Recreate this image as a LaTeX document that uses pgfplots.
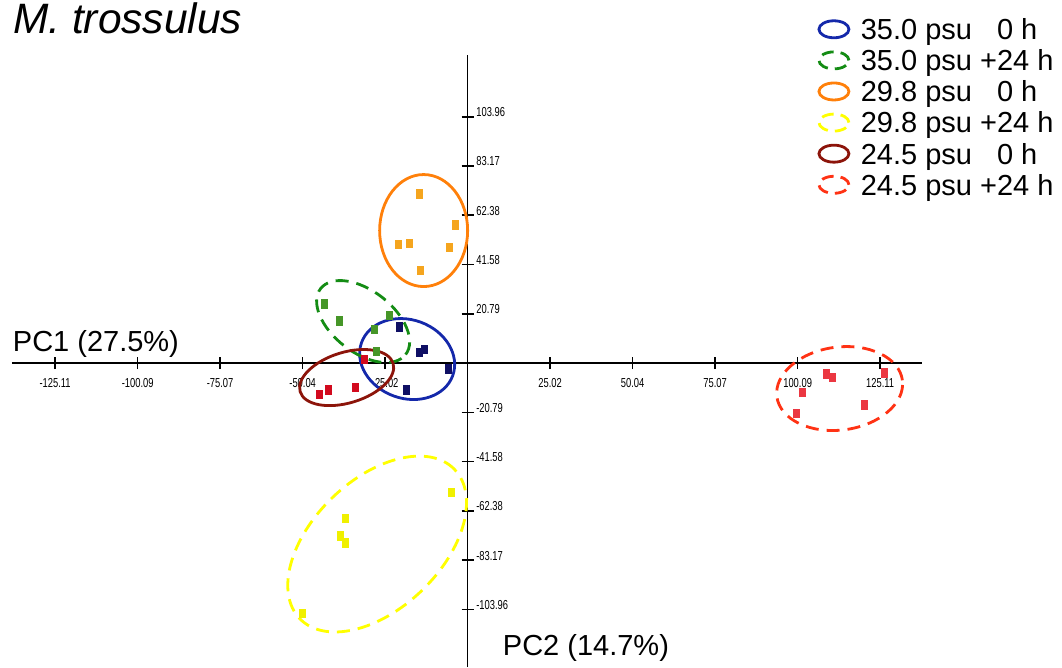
\documentclass[border=0pt]{standalone}
\usepackage{pgfplots}
\pgfplotsset{compat=1.18}
\usepackage{fontspec}
\setmainfont{Liberation Sans}
\newfontfamily\tickfont{Liberation Sans}[FakeStretch=0.72]

\definecolor{blueE}{RGB}{20,40,170}
\definecolor{blueP}{RGB}{15,15,100}
\definecolor{greenE}{RGB}{20,140,20}
\definecolor{greenP}{RGB}{70,150,40}
\definecolor{orangeE}{RGB}{255,128,10}
\definecolor{orangeP}{RGB}{245,165,30}
\definecolor{yellowE}{RGB}{255,255,0}
\definecolor{yellowP}{RGB}{240,240,0}
\definecolor{dredE}{RGB}{140,20,10}
\definecolor{dredP}{RGB}{210,10,30}
\definecolor{redE}{RGB}{255,50,20}
\definecolor{redP}{RGB}{235,55,65}

\pgfdeclareplotmark{rect}{\pgfpathrectangle{\pgfpoint{-3.5pt}{-4.75pt}}{\pgfpoint{7pt}{9.5pt}}\pgfusepathqfill}

\tikzset{
  ell/.style={line width=2.8pt},
  dashell/.style={line width=2.8pt, dash pattern=on 13pt off 8pt},
  legdash/.style={line width=2.8pt, dash pattern=on 12pt off 7pt},
}

\begin{document}
\begin{tikzpicture}
\begin{axis}[
  at={(12pt,0pt)}, anchor=south west,
  x=3.297pt, y=2.369pt,
  xmin=-138.2, xmax=137.9, ymin=-128.3, ymax=130,
  axis lines=middle,
  axis line style={-, line width=1.6pt, black},
  clip=false,
  tick align=center,
  major tick length=12pt,
  every tick/.style={black, line width=1.6pt},
  xtick={-125.11,-100.09,-75.07,-50.04,-25.02,25.02,50.04,75.07,100.09,125.11},
  xticklabels={-125.11,-100.09,-75.07,-50.04,-25.02,25.02,50.04,75.07,100.09,125.11},
  ytick={-103.96,-83.17,-62.38,-41.58,-20.79,20.79,41.58,62.38,83.17,103.96},
  yticklabels={-103.96,-83.17,-62.38,-41.58,-20.79,20.79,41.58,62.38,83.17,103.96},
  ticklabel style={font=\tickfont\fontsize{13}{13}\selectfont, inner sep=0pt},
  xticklabel style={anchor=north, yshift=-9pt},
  yticklabel style={anchor=west, xshift=14.5pt, yshift=4.5pt},
  every axis title shift=0pt,
  title={\textit{M. trossulus}},
  title style={at={(axis description cs:0.001,1.0345)}, anchor=base west, font=\fontsize{42.5}{50}\selectfont, inner sep=0pt},
  xlabel={PC1 (27.5\%)},
  xlabel style={at={(axis description cs:0.0008,0.5148)}, anchor=base west, font=\fontsize{29}{35}\selectfont, inner sep=0pt},
  ylabel={PC2 (14.7\%)},
  ylabel style={at={(axis description cs:0.5391,0.0196)}, anchor=base west, rotate=0, font=\fontsize{29}{35}\selectfont, inner sep=0pt},
  legend cell align=left,
  legend style={at={(axis description cs:0.8849,1.0657)}, anchor=north west, draw=none, fill=none,
    inner xsep=0pt, inner ysep=0pt, outer sep=0pt, row sep=2.3pt,
    font=\fontsize{29}{35}\selectfont,
    nodes={inner sep=0pt, text height=24.8pt, text depth=4pt},
    /tikz/every odd column/.append style={column sep=10.5pt}},
]
% data points
\addplot[only marks, mark=rect, color=blueP, forget plot] coordinates {(-20.7,15.3) (-14.6,4.5) (-13.1,5.8) (-5.8,-2.5) (-18.4,-11.4)};
\addplot[only marks, mark=rect, color=greenP, forget plot] coordinates {(-43.5,24.9) (-38.9,17.7) (-23.7,20.1) (-28.4,14.2) (-27.5,4.8)};
\addplot[only marks, mark=rect, color=orangeP, forget plot] coordinates {(-14.6,71.3) (-3.8,58.3) (-5.6,48.8) (-21.0,50.1) (-17.7,50.5) (-14.2,39.0)};
\addplot[only marks, mark=rect, color=yellowP, forget plot] coordinates {(-4.8,-54.7) (-36.9,-65.7) (-38.5,-73.0) (-36.9,-75.9) (-50.1,-105.7)};
\addplot[only marks, mark=rect, color=dredP, forget plot] coordinates {(-31.3,1.6) (-45.0,-13.2) (-42.2,-11.4) (-34.1,-10.4)};
\addplot[only marks, mark=rect, color=redP, forget plot] coordinates {(108.9,-4.6) (110.8,-6.2) (126.3,-4.1) (101.7,-12.4) (99.6,-21.2) (120.3,-17.7)};

% group ellipses
\draw[ell, blueE] (axis cs:-18.35,1.69) ellipse [x radius=48.5pt, y radius=39.3pt, rotate=-20];
\draw[dashell, greenE] (axis cs:-31.70,17.52) ellipse [x radius=53.8pt, y radius=30.8pt, rotate=-37.8];
\draw[ell, orangeE] (axis cs:-13.35,55.93) ellipse [x radius=44pt, y radius=56pt];
\draw[dashell, yellowE] (axis cs:-27.45,-76.40) ellipse [x radius=107.5pt, y radius=64.5pt, rotate=44];
\draw[ell, dredE] (axis cs:-36.70,-6.12) ellipse [x radius=48.6pt, y radius=25.3pt, rotate=17];
\draw[dashell, redE] (axis cs:112.83,-10.76) ellipse [x radius=63.3pt, y radius=41.5pt, rotate=7.5];

% legend
\addlegendimage{legend image code/.code={\draw[ell, blueE] (15pt,0pt) ellipse [x radius=15pt, y radius=8.5pt];}}
\addlegendentry{35.0 psu \hphantom{+}0 h}
\addlegendimage{legend image code/.code={\draw[legdash, greenE] (15pt,0pt) ellipse [x radius=15pt, y radius=8.5pt];}}
\addlegendentry{35.0 psu +24 h}
\addlegendimage{legend image code/.code={\draw[ell, orangeE] (15pt,0pt) ellipse [x radius=15pt, y radius=8.5pt];}}
\addlegendentry{29.8 psu \hphantom{+}0 h}
\addlegendimage{legend image code/.code={\draw[legdash, yellowE] (15pt,0pt) ellipse [x radius=15pt, y radius=8.5pt];}}
\addlegendentry{29.8 psu +24 h}
\addlegendimage{legend image code/.code={\draw[ell, dredE] (15pt,0pt) ellipse [x radius=15pt, y radius=8.5pt];}}
\addlegendentry{24.5 psu \hphantom{+}0 h}
\addlegendimage{legend image code/.code={\draw[legdash, redE] (15pt,0pt) ellipse [x radius=15pt, y radius=8.5pt];}}
\addlegendentry{24.5 psu +24 h}
\end{axis}
\pgfresetboundingbox
\path (0pt,0pt) rectangle (1062pt,667pt);
\end{tikzpicture}
\end{document}
